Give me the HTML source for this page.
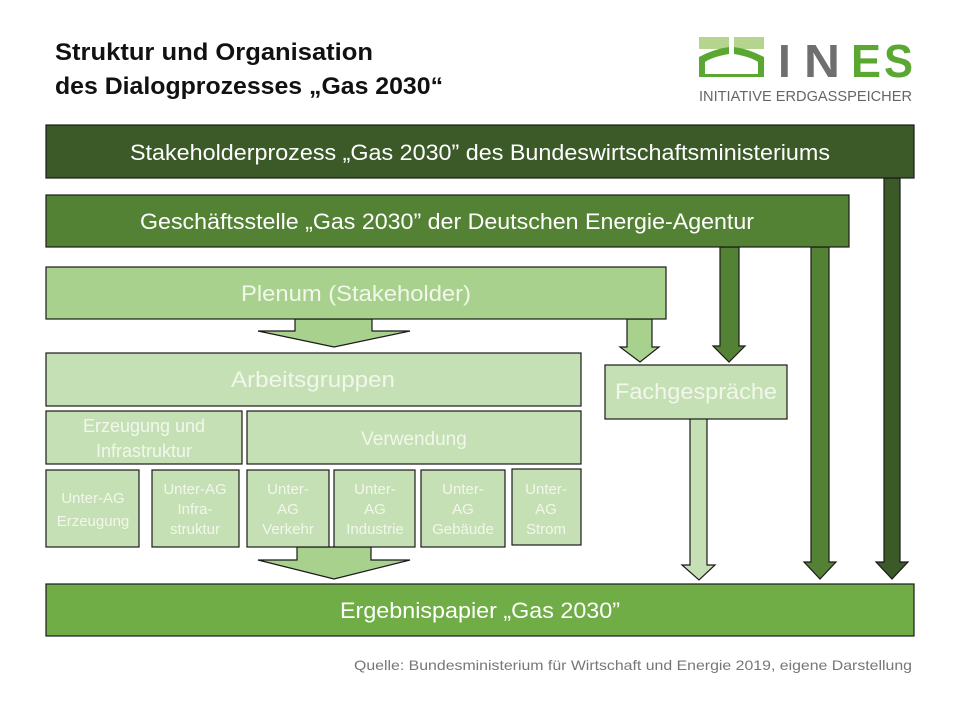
<!DOCTYPE html>
<html><head><meta charset="utf-8"><style>
html,body{margin:0;padding:0;background:#fff;width:960px;height:720px;overflow:hidden}
svg{display:block}
text{font-family:"Liberation Sans",sans-serif}
</style></head><body>
<svg width="960" height="720" viewBox="0 0 960 720" xmlns="http://www.w3.org/2000/svg">
<g font-weight="bold" font-size="24" fill="#111">
<text x="55" y="60" textLength="318" lengthAdjust="spacingAndGlyphs">Struktur und Organisation</text>
<text x="55" y="94" textLength="388" lengthAdjust="spacingAndGlyphs">des Dialogprozesses „Gas 2030“</text>
</g>
<!-- logo -->
<rect x="699" y="37" width="30" height="12" fill="#b5d58f"/>
<rect x="734" y="37" width="30" height="12" fill="#b5d58f"/>
<path d="M699 76 L699 57 Q714 49 729 47 L729 54 Q712 57 705 62 L705 76 Z" fill="#5aa832"/>
<path d="M764 76 L764 57 Q749 49 734 47 L734 54 Q751 57 758 62 L758 76 Z" fill="#5aa832"/>
<rect x="699" y="74" width="65" height="3" fill="#5aa832"/>
<g font-weight="bold" font-size="46">
<text x="778" y="77" fill="#6f6f6f">I</text>
<text x="804" y="77" fill="#6f6f6f" textLength="36" lengthAdjust="spacingAndGlyphs">N</text>
<text x="851" y="77" fill="#5aa832" textLength="30" lengthAdjust="spacingAndGlyphs">E</text>
<text x="884" y="77" fill="#5aa832" textLength="29" lengthAdjust="spacingAndGlyphs">S</text>
</g>
<text x="699" y="101" font-size="15" fill="#666" textLength="213" lengthAdjust="spacingAndGlyphs">INITIATIVE  ERDGASSPEICHER</text>

<g stroke="#1a1a1a" stroke-width="1.2">
<polygon points="884,178 900,178 900,562 908,562 892,579 876,562 884,562" fill="#3b5a28"/>
<polygon points="811,247 829,247 829,562 836,562 820,579 804,562 811,562" fill="#548235"/>
<polygon points="720,247 739,247 739,346 745,346 729,362 713,346 720,346" fill="#548235"/>
<polygon points="627,319 652,319 652,347 659,347 640,362 620,347 627,347" fill="#a9d18e"/>
<polygon points="690,418 707,418 707,565 715,565 699,580 682,565 690,565" fill="#c5e0b4"/>
<polygon points="295,319 372,319 372,331 410,331 334,347 258,331 295,331" fill="#a9d18e"/>
<polygon points="297,547 371,547 371,560 410,560 334,579 258,560 297,560" fill="#a9d18e"/>
<rect x="46" y="125" width="868" height="53" fill="#3b5a28"/>
<rect x="46" y="195" width="803" height="52" fill="#548235"/>
<rect x="46" y="267" width="620" height="52" fill="#a9d18e"/>
<rect x="46" y="353" width="535" height="53" fill="#c5e0b4"/>
<rect x="605" y="365" width="182" height="54" fill="#c5e0b4"/>
<rect x="46" y="411" width="196" height="53" fill="#c5e0b4"/>
<rect x="247" y="411" width="334" height="53" fill="#c5e0b4"/>
<rect x="46" y="470" width="93" height="77" fill="#c5e0b4"/>
<rect x="152" y="470" width="87" height="77" fill="#c5e0b4"/>
<rect x="247" y="470" width="82" height="77" fill="#c5e0b4"/>
<rect x="334" y="470" width="81" height="77" fill="#c5e0b4"/>
<rect x="421" y="470" width="84" height="77" fill="#c5e0b4"/>
<rect x="512" y="469" width="69" height="76" fill="#c5e0b4"/>
<rect x="46" y="584" width="868" height="52" fill="#70ad47"/>
</g>
<g fill="#f2f7ec" text-anchor="middle">
<text x="480" y="160" font-size="22" fill="#fff" textLength="700" lengthAdjust="spacingAndGlyphs">Stakeholderprozess „Gas 2030” des Bundeswirtschaftsministeriums</text>
<text x="447" y="229" font-size="22" fill="#fff" textLength="614" lengthAdjust="spacingAndGlyphs">Geschäftsstelle „Gas 2030” der Deutschen Energie-Agentur</text>
<text x="356" y="301" font-size="22" textLength="230" lengthAdjust="spacingAndGlyphs">Plenum (Stakeholder)</text>
<text x="313" y="387" font-size="22" textLength="164" lengthAdjust="spacingAndGlyphs">Arbeitsgruppen</text>
<text x="696" y="399" font-size="22" textLength="162" lengthAdjust="spacingAndGlyphs">Fachgespräche</text>
<text x="144" y="432" font-size="18">Erzeugung und</text>
<text x="144" y="457" font-size="18">Infrastruktur</text>
<text x="414" y="445" font-size="19">Verwendung</text>
<g font-size="15">
<text x="93" y="503">Unter-AG</text><text x="93" y="526">Erzeugung</text>
<text x="195" y="494">Unter-AG</text><text x="195" y="514">Infra-</text><text x="195" y="534">struktur</text>
<text x="288" y="494">Unter-</text><text x="288" y="514">AG</text><text x="288" y="534">Verkehr</text>
<text x="375" y="494">Unter-</text><text x="375" y="514">AG</text><text x="375" y="534">Industrie</text>
<text x="463" y="494">Unter-</text><text x="463" y="514">AG</text><text x="463" y="534">Gebäude</text>
<text x="546" y="494">Unter-</text><text x="546" y="514">AG</text><text x="546" y="534">Strom</text>
</g>
<text x="480" y="618" font-size="22" fill="#fff" textLength="280" lengthAdjust="spacingAndGlyphs">Ergebnispapier „Gas 2030”</text>
</g>
<text x="912" y="670" font-size="14" fill="#777" text-anchor="end" textLength="558" lengthAdjust="spacingAndGlyphs">Quelle: Bundesministerium für Wirtschaft und Energie 2019, eigene Darstellung</text>
</svg>
</body></html>
